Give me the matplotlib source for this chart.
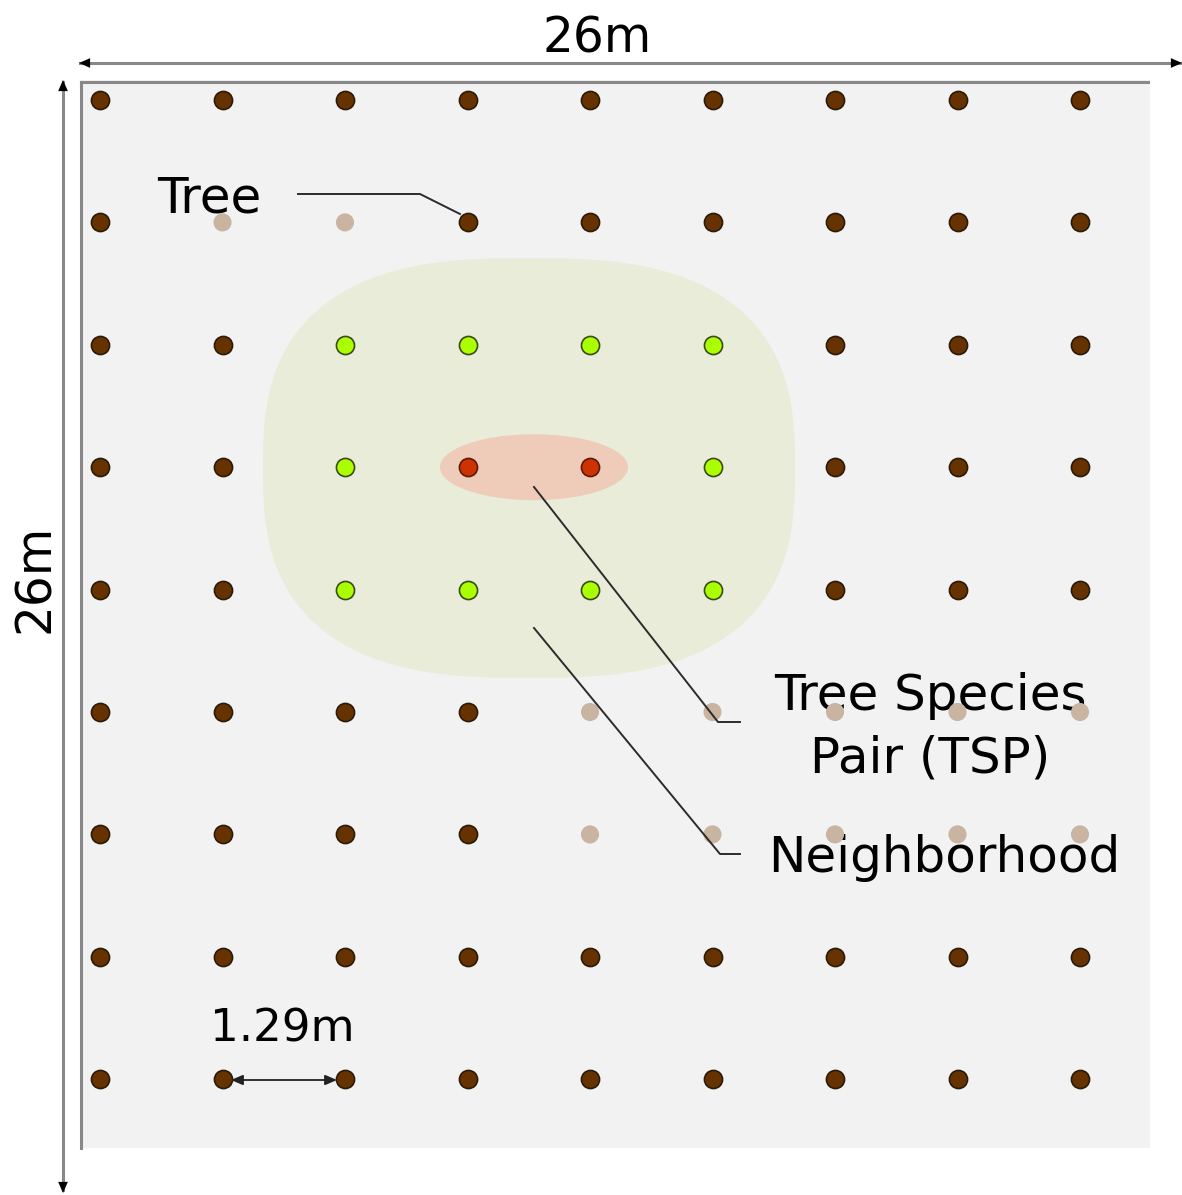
import numpy as np
import matplotlib
matplotlib.use("Agg")
import matplotlib.pyplot as plt
from matplotlib.patches import Ellipse, Polygon, Rectangle

# tree grid: 9 x 9 positions, category per tree
n_rows = 9
n_cols = 9
# b = brown (tree), t = tan (faded tree), g = green (neighbour), r = red (TSP)
grid = [
    "bbbbbbbbb",
    "bttbbbbbb",
    "bbggggbbb",
    "bbgrrgbbb",
    "bbggggbbb",
    "bbbbttttt",
    "bbbbttttt",
    "bbbbbbbbb",
    "bbbbbbbbb",
]
plot_size_label = "26m"
spacing_label = "1.29m"

colors = {"b": "#663300", "t": "#c8b4a0", "g": "#aaff00", "r": "#cc3300"}
edges = {"b": "#2a1a0a", "t": "none", "g": "#3a4a1a", "r": "#5a1a0a"}

W, H = 1182, 1195
fig = plt.figure(figsize=(W / 100, H / 100), dpi=100)
ax = fig.add_axes([0, 0, 1, 1])
ax.axis("off")

# pixel -> grid units (column 0 at px 100, step 122.5)
x0, dx = 100.0, 122.5
y0, dy = 100.0, 122.4
def X(px):
    return (px - x0) / dx
def Y(py):
    return (py - y0) / dy

ax.set_xlim(X(0), X(W))
ax.set_ylim(Y(H), Y(0))

# plot background and borders
ax.add_patch(Rectangle((X(80), Y(80)), X(1150) - X(80), Y(1148) - Y(80),
                       facecolor="#f2f2f2", edgecolor="none", zorder=0))
ax.plot([X(81), X(81)], [Y(82), Y(1148)], color="#888888", lw=2.2, zorder=1)
ax.plot([X(81), X(1148)], [Y(82), Y(82)], color="#888888", lw=2.2, zorder=1)

# neighborhood (rounded square) and TSP ellipse
t = np.linspace(0, 2 * np.pi, 400)
p = 2.7
cx, cy, ax_r, ay_r = X(529), Y(468), 266 / dx, 210 / dy
sx = cx + ax_r * np.sign(np.cos(t)) * np.abs(np.cos(t)) ** (2 / p)
sy = cy + ay_r * np.sign(np.sin(t)) * np.abs(np.sin(t)) ** (2 / p)
ax.add_patch(Polygon(np.column_stack([sx, sy]), closed=True,
                     facecolor="#e9ecd9", edgecolor="none", zorder=1))
ax.add_patch(Ellipse((X(534), 3), 188 / dx, 66 / dy, facecolor="#efcbb9",
                     edgecolor="none", zorder=2))

# trees
for cat in colors:
    xs, ys = [], []
    for r in range(n_rows):
        for c in range(n_cols):
            if grid[r][c] == cat:
                xs.append(c)
                ys.append(r)
    ax.scatter(xs, ys, s=170, color=colors[cat], edgecolors=edges[cat],
               linewidths=1.2, zorder=4)

# dimension arrows
arrow_grey = "#888888"
ax.plot([X(80), X(1180)], [Y(63), Y(63)], color=arrow_grey, lw=2.2, zorder=3)
ax.plot([X(63), X(63)], [Y(82), Y(1190)], color=arrow_grey, lw=2.2, zorder=3)
head = dict(arrowstyle="-|>,head_length=0.8,head_width=0.35", color="black", lw=0,
            shrinkA=0, shrinkB=0)
ax.annotate("", xy=(X(79), Y(63)), xytext=(X(95), Y(63)), arrowprops=head)
ax.annotate("", xy=(X(1182), Y(63)), xytext=(X(1166), Y(63)), arrowprops=head)
ax.annotate("", xy=(X(63), Y(80)), xytext=(X(63), Y(96)), arrowprops=head)
ax.annotate("", xy=(X(63), Y(1193)), xytext=(X(63), Y(1177)), arrowprops=head)

ax.text(X(597), Y(52), plot_size_label, fontsize=35, ha="center", va="baseline")
ax.text(X(35), Y(578), plot_size_label, fontsize=35, ha="center", va="center",
        rotation=90)

# spacing arrow
ax.annotate("", xy=(X(231), Y(1080)), xytext=(X(337), Y(1080)),
            arrowprops=dict(arrowstyle="<|-|>,head_length=0.7,head_width=0.3",
                            color="#222222", lw=1.3, shrinkA=0, shrinkB=0),
            zorder=5)
ax.text(X(210), Y(1042), spacing_label, fontsize=32.5, ha="left", va="baseline")

# leader lines and labels
lc = "#2b2b2b"
ax.plot([X(298), X(420), X(460)], [Y(194), Y(194), Y(214)], color=lc, lw=1.4, zorder=5)
ax.text(X(157), Y(212), "Tree", fontsize=36, ha="left", va="baseline")

ax.plot([X(534), X(718), X(740)], [Y(487), Y(722), Y(722)], color=lc, lw=1.4, zorder=5)
ax.text(X(930), Y(710), "Tree Species", fontsize=36, ha="center", va="baseline")
ax.text(X(930), Y(772), "Pair (TSP)", fontsize=36, ha="center", va="baseline")

ax.plot([X(534), X(720), X(740)], [Y(628), Y(854), Y(854)], color=lc, lw=1.4, zorder=5)
ax.text(X(768), Y(872), "Neighborhood", fontsize=36, ha="left", va="baseline")

fig.savefig("out.png", dpi=100, facecolor="white")
